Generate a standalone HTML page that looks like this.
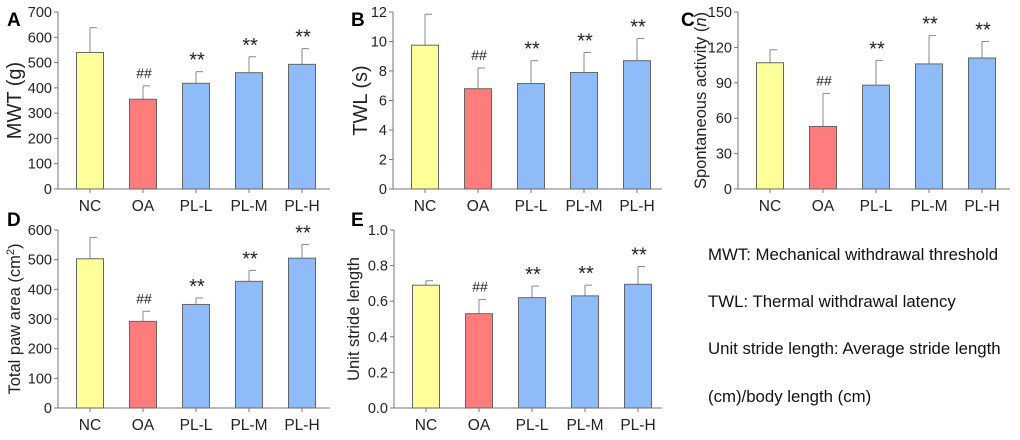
<!DOCTYPE html>
<html><head><meta charset="utf-8">
<style>
body{margin:0;background:#fff;width:1020px;height:435px;overflow:hidden;font-family:"Liberation Sans",sans-serif;}
svg text{font-family:"Liberation Sans",sans-serif;}
</style></head>
<body>
<svg id="fig" width="1020" height="435" viewBox="0 0 1020 435" xmlns="http://www.w3.org/2000/svg">
<g font-size="16.8" fill="#111">
<text x="708" y="260">MWT: Mechanical withdrawal threshold</text>
<text x="708" y="307">TWL: Thermal withdrawal latency</text>
<text x="708" y="354">Unit stride length: Average stride length</text>
<text x="708" y="402">(cm)/body length (cm)</text>
</g>
</svg>
<script>
const categories=["NC","OA","PL-L","PL-M","PL-H"];
const mwtMeans=[540,355,418,460,493];
const mwtErr=[98,53,46,63,62];
const twlMeans=[9.75,6.8,7.15,7.9,8.7];
const twlErr=[2.1,1.4,1.55,1.35,1.5];
const spaMeans=[107,53,88,106,111];
const spaErr=[11,28,21,24,14];
const pawMeans=[503,292,349,427,505];
const pawErr=[72,34,22,37,46];
const strideMeans=[0.69,0.53,0.62,0.63,0.695];
const strideErr=[0.025,0.08,0.065,0.06,0.1];
const marks=["","##","**","**","**"];
const mwtTicks=[0,100,200,300,400,500,600,700];
const twlTicks=[0,2,4,6,8,10,12];
const spaTicks=[0,30,60,90,120,150];
const pawTicks=[0,100,200,300,400,500,600];
const strideTicks=["0.0","0.2","0.4","0.6","0.8","1.0"];

const NS="http://www.w3.org/2000/svg";
const svg=document.getElementById('fig');
const colors=["#ffff99","#ff7c7c","#8fbcf8","#8fbcf8","#8fbcf8"];
function mk(tag,attrs,parent){const e=document.createElementNS(NS,tag);for(const k in attrs)e.setAttribute(k,attrs[k]);parent.appendChild(e);return e;}
function panel(p){
  const g=mk('g',{},svg);
  
  
  const max=p.max;
  const y=v=>p.y0-(v/max)*(p.y0-p.yTop);
  const x=i=>p.ax+32+i*53;
  const lt=mk('text',{x:p.lx,y:p.ly,'font-size':19,'font-weight':'bold',fill:'#000'},g);lt.textContent=p.id;
  
  
  const ya=mk('line',{x1:p.ax,x2:p.ax,y1:p.yTop,y2:p.y0,stroke:'#777','stroke-width':1},g);
  
  
  const xa=mk('line',{x1:p.ax,x2:p.xEnd,y1:p.y0,y2:p.y0,stroke:'#777','stroke-width':1},g);
  
  
  p.ticks.forEach(t=>{
    const v=parseFloat(t);
    mk('line',{x1:p.ax-4,x2:p.ax,y1:y(v),y2:y(v),stroke:'#777'},g);
    const tt=mk('text',{x:p.ax-6,y:y(v)+5,'font-size':14.5,'text-anchor':'end',fill:'#222'},g);tt.textContent=t;
    
    
  });
  const yt=mk('text',{transform:`translate(${p.tx},${(p.y0+p.yTop)/2}) rotate(-90)`,'font-size':p.tfs,'text-anchor':'middle',fill:'#222'},g);
  yt.innerHTML=p.title;
  
  
  categories.forEach((c,i)=>{
    const cx=x(i),m=p.means[i],e=p.err[i];
    const el=mk('line',{x1:cx,x2:cx,y1:y(m+e),y2:y(m),stroke:'#888'},g);
    
    
    mk('line',{x1:cx,x2:cx+7,y1:y(m+e),y2:y(m+e),stroke:'#888'},g);
    const r=mk('rect',{x:cx-13.5,y:y(m),width:27,height:p.y0-y(m),fill:colors[i],stroke:'#666','stroke-width':1},g);
    
    
    mk('line',{x1:cx,x2:cx,y1:p.y0,y2:p.y0+4,stroke:'#777'},g);
    const ct=mk('text',{x:cx,y:p.y0+22,'font-size':15.5,'text-anchor':'middle',fill:'#222'},g);ct.textContent=c;
    
    
    if(marks[i]){
      const st=mk('text',{x:cx+1,y:y(m+e)-(marks[i]=="**"?5:8),'font-size':marks[i]=="**"?20:14,'text-anchor':'middle',fill:'#222'},g);st.textContent=marks[i];
      
      
    }
  });
}
panel({id:'A',ax:58,xEnd:330,y0:189,yTop:12,max:700,ticks:mwtTicks,means:mwtMeans,err:mwtErr,title:'MWT (g)',tx:21,tfs:20,lx:7,ly:26});
panel({id:'B',ax:393,xEnd:662,y0:189,yTop:12,max:12,ticks:twlTicks,means:twlMeans,err:twlErr,title:'TWL (s)',tx:367,tfs:20,lx:351,ly:26});
panel({id:'C',ax:738,xEnd:1010,y0:189,yTop:12,max:150,ticks:spaTicks,means:spaMeans,err:spaErr,title:'Spontaneous activity (<tspan font-style="italic">n</tspan>)',tx:706,tfs:16.5,lx:681,ly:26});
panel({id:'D',ax:58,xEnd:330,y0:408,yTop:230,max:600,ticks:pawTicks,means:pawMeans,err:pawErr,title:'Total paw area (cm<tspan dy="-6" font-size="11">2</tspan><tspan dy="6">)</tspan>',tx:20,tfs:16.5,lx:7,ly:226});
panel({id:'E',ax:394,xEnd:662,y0:408,yTop:230,max:1.0,ticks:strideTicks,means:strideMeans,err:strideErr,title:'Unit stride length',tx:359,tfs:16.5,lx:351,ly:226});
</script>
</body></html>
